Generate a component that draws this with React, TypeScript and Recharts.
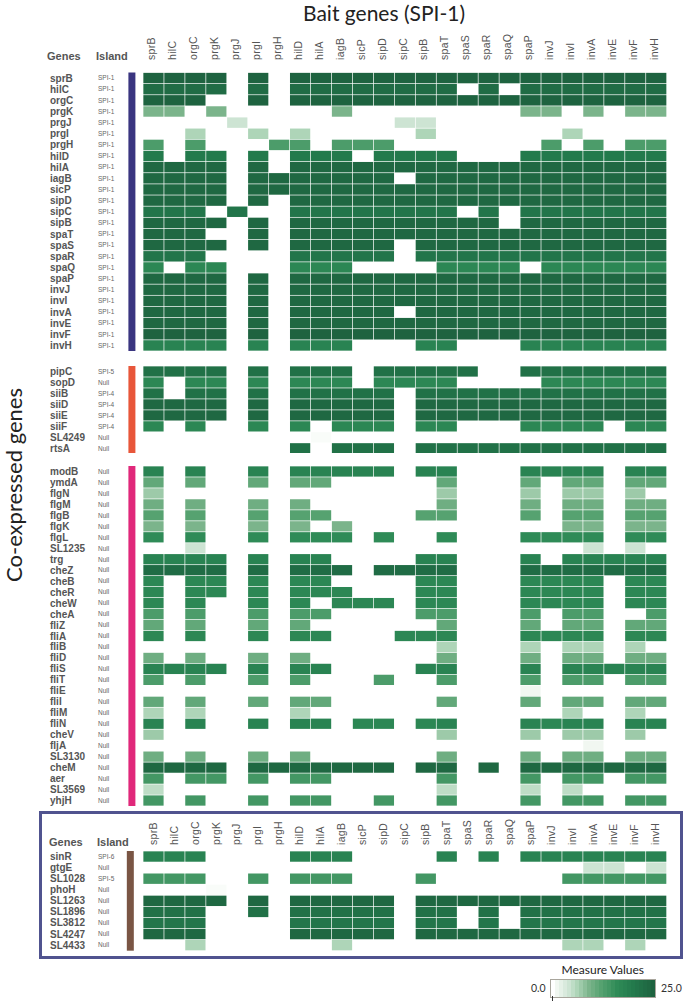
import { ScatterChart, Scatter, XAxis, YAxis, ReferenceArea } from 'recharts'

const baitGenes = ['sprB', 'hilC', 'orgC', 'prgK', 'prgJ', 'prgI', 'prgH', 'hilD', 'hilA', 'iagB', 'sicP', 'sipD', 'sipC', 'sipB', 'spaT', 'spaS', 'spaR', 'spaQ', 'spaP', 'invJ', 'invI', 'invA', 'invE', 'invF', 'invH']

const spi1Genes = ['sprB', 'hilC', 'orgC', 'prgK', 'prgJ', 'prgI', 'prgH', 'hilD', 'hilA', 'iagB', 'sicP', 'sipD', 'sipC', 'sipB', 'spaT', 'spaS', 'spaR', 'spaQ', 'spaP', 'invJ', 'invI', 'invA', 'invE', 'invF', 'invH']
const spi1Islands = spi1Genes.map(() => 'SPI-1')
const spi1Values = [
  [25, 25, 25, 25, 0, 25, 0, 25, 25, 25, 25, 25, 25, 25, 25, 25, 25, 25, 25, 25, 25, 25, 25, 25, 25],
  [23, 23, 23, 23, 0, 23, 0, 23, 23, 23, 23, 23, 23, 23, 23, 0, 23, 0, 23, 23, 23, 23, 23, 23, 23],
  [25, 25, 25, 0, 0, 25, 0, 25, 25, 25, 25, 25, 25, 25, 25, 25, 25, 25, 25, 25, 25, 25, 25, 25, 25],
  [9, 9, 0, 9, 0, 0, 0, 0, 0, 9, 0, 0, 0, 0, 0, 0, 0, 0, 9, 9, 0, 9, 0, 9, 9],
  [0, 0, 0, 0, 4, 0, 0, 0, 0, 0, 0, 0, 4, 4, 0, 0, 0, 0, 0, 0, 0, 0, 0, 0, 0],
  [0, 0, 6, 0, 0, 6, 0, 6, 0, 0, 0, 0, 0, 6, 0, 0, 0, 0, 0, 0, 6, 0, 0, 0, 0],
  [13, 0, 13, 0, 0, 0, 13, 13, 0, 13, 13, 13, 0, 0, 0, 0, 0, 0, 0, 13, 0, 13, 0, 13, 13],
  [20, 0, 20, 20, 0, 20, 0, 20, 20, 20, 0, 20, 20, 20, 20, 0, 0, 0, 20, 20, 20, 20, 20, 20, 20],
  [24, 24, 24, 24, 0, 24, 0, 24, 24, 24, 24, 24, 24, 24, 24, 24, 24, 24, 24, 24, 24, 24, 24, 24, 24],
  [24, 24, 24, 24, 0, 24, 24, 24, 24, 24, 24, 24, 0, 24, 24, 24, 24, 24, 24, 24, 24, 24, 24, 24, 24],
  [24, 24, 24, 24, 0, 24, 24, 24, 24, 24, 24, 24, 24, 24, 24, 24, 24, 24, 24, 24, 24, 24, 24, 24, 24],
  [24, 24, 24, 24, 0, 24, 0, 24, 24, 24, 24, 24, 24, 24, 24, 24, 24, 24, 24, 24, 24, 24, 24, 24, 24],
  [21, 21, 21, 0, 21, 0, 0, 21, 21, 21, 21, 21, 21, 21, 21, 0, 21, 0, 21, 21, 21, 21, 21, 21, 21],
  [24, 24, 24, 24, 0, 24, 0, 24, 24, 24, 24, 24, 24, 24, 24, 24, 24, 0, 24, 24, 24, 24, 24, 24, 24],
  [24, 24, 24, 0, 0, 24, 0, 24, 24, 24, 24, 24, 24, 24, 24, 24, 24, 24, 24, 24, 24, 24, 24, 24, 24],
  [24, 24, 24, 24, 0, 24, 0, 24, 24, 24, 24, 24, 0, 24, 24, 24, 24, 24, 24, 24, 24, 24, 24, 24, 24],
  [21, 21, 21, 0, 0, 0, 0, 21, 21, 21, 21, 21, 0, 21, 21, 21, 21, 21, 21, 21, 21, 21, 21, 21, 21],
  [17, 0, 17, 17, 0, 0, 0, 17, 17, 17, 0, 0, 0, 0, 17, 17, 17, 17, 0, 17, 17, 17, 17, 17, 17],
  [24, 24, 24, 24, 0, 24, 0, 24, 24, 24, 24, 24, 24, 24, 24, 24, 24, 24, 24, 24, 24, 24, 24, 24, 24],
  [24, 24, 24, 24, 0, 24, 0, 24, 24, 24, 24, 24, 24, 24, 24, 24, 24, 24, 24, 24, 24, 24, 24, 24, 24],
  [24, 24, 24, 24, 0, 24, 0, 24, 24, 24, 24, 24, 24, 24, 24, 24, 24, 24, 24, 24, 24, 24, 24, 24, 24],
  [24, 24, 24, 24, 0, 24, 0, 24, 24, 24, 24, 24, 0, 24, 24, 24, 24, 24, 24, 24, 24, 24, 24, 24, 24],
  [24, 24, 24, 24, 0, 24, 0, 24, 24, 24, 24, 24, 24, 24, 24, 24, 24, 24, 24, 24, 24, 24, 24, 24, 24],
  [25, 25, 25, 25, 0, 25, 0, 25, 25, 25, 25, 25, 25, 25, 25, 25, 25, 25, 25, 25, 25, 25, 25, 25, 25],
  [18, 18, 18, 18, 0, 18, 0, 18, 18, 18, 0, 0, 0, 18, 18, 0, 0, 0, 18, 18, 18, 18, 18, 18, 18],
]

const invasionGenes = ['pipC', 'sopD', 'siiB', 'siiD', 'siiE', 'siiF', 'SL4249', 'rtsA']
const invasionIslands = ['SPI-5', 'Null', 'SPI-4', 'SPI-4', 'SPI-4', 'SPI-4', 'Null', 'Null']
const invasionValues = [
  [22, 22, 22, 22, 0, 22, 0, 22, 22, 22, 0, 22, 22, 22, 22, 22, 0, 0, 22, 22, 22, 22, 22, 22, 22],
  [17, 0, 17, 17, 0, 17, 0, 17, 17, 17, 0, 17, 17, 17, 17, 0, 0, 0, 0, 17, 17, 17, 17, 17, 17],
  [22, 0, 22, 22, 0, 22, 0, 22, 22, 22, 22, 22, 0, 22, 22, 22, 22, 22, 22, 22, 22, 22, 22, 22, 22],
  [24, 24, 24, 24, 0, 24, 0, 24, 24, 24, 24, 24, 0, 24, 24, 24, 24, 24, 24, 24, 24, 24, 24, 24, 24],
  [24, 24, 24, 24, 0, 24, 0, 24, 24, 24, 24, 24, 0, 24, 24, 24, 24, 24, 24, 24, 24, 24, 24, 24, 24],
  [17, 0, 17, 0, 0, 17, 0, 17, 0, 17, 17, 17, 0, 17, 17, 0, 0, 0, 17, 17, 17, 17, 0, 17, 17],
  [0, 0, 0, 0, 0, 0, 0, 0, 0.4, 0, 0, 0, 0, 0, 0, 0, 0, 0, 0, 0, 0, 0, 0, 0, 0],
  [0, 0, 0, 0, 0, 0, 0, 22, 0, 22, 22, 22, 0, 22, 22, 22, 22, 22, 22, 22, 22, 22, 22, 22, 22],
]

const motilityGenes = ['modB', 'ymdA', 'flgN', 'flgM', 'flgB', 'flgK', 'flgL', 'SL1235', 'trg', 'cheZ', 'cheB', 'cheR', 'cheW', 'cheA', 'fliZ', 'fliA', 'fliB', 'fliD', 'fliS', 'fliT', 'fliE', 'fliI', 'fliM', 'fliN', 'cheV', 'fljA', 'SL3130', 'cheM', 'aer', 'SL3569', 'yhjH']
const motilityIslands = motilityGenes.map(() => 'Null')
const motilityValues = [
  [18, 0, 18, 0, 0, 18, 0, 18, 18, 18, 18, 18, 0, 18, 18, 0, 0, 0, 18, 18, 18, 18, 0, 18, 18],
  [11, 0, 11, 0, 0, 11, 0, 11, 11, 0, 0, 0, 0, 0, 11, 0, 0, 0, 11, 0, 11, 11, 0, 11, 11],
  [7, 0, 0, 0, 0, 0, 0, 0, 0, 0, 0, 0, 0, 0, 7, 0, 0, 0, 7, 0, 7, 7, 0, 7, 0],
  [10, 0, 10, 0, 0, 10, 0, 10, 0, 0, 0, 0, 0, 0, 10, 0, 0, 0, 10, 0, 10, 10, 0, 10, 10],
  [12, 0, 12, 0, 0, 12, 0, 12, 12, 0, 0, 0, 0, 12, 12, 0, 0, 0, 12, 0, 12, 12, 0, 12, 12],
  [9, 0, 9, 0, 0, 9, 0, 9, 0, 9, 0, 0, 0, 0, 0, 0, 0, 0, 0, 0, 9, 9, 0, 9, 9],
  [16, 0, 16, 0, 0, 16, 0, 16, 16, 16, 0, 16, 0, 0, 16, 0, 0, 0, 16, 16, 16, 16, 0, 16, 16],
  [0, 0, 4, 0, 0, 0, 0, 0, 0, 0, 0, 0, 0, 0, 0, 0, 0, 0, 0, 0, 0, 4, 0, 4, 0],
  [18, 18, 18, 18, 0, 18, 0, 18, 18, 0, 0, 0, 0, 18, 18, 0, 0, 0, 18, 0, 18, 18, 18, 18, 18],
  [23, 23, 23, 23, 0, 23, 0, 23, 23, 23, 0, 23, 23, 23, 23, 0, 0, 0, 23, 23, 23, 23, 23, 23, 23],
  [17, 0, 17, 17, 0, 17, 0, 17, 17, 0, 0, 0, 0, 17, 17, 0, 0, 0, 17, 17, 17, 17, 0, 17, 17],
  [17, 0, 17, 17, 0, 17, 0, 17, 17, 17, 0, 0, 0, 17, 17, 0, 0, 0, 17, 17, 17, 17, 0, 17, 17],
  [17, 0, 17, 0, 0, 17, 0, 17, 0, 17, 17, 17, 0, 17, 17, 0, 0, 0, 17, 17, 17, 17, 0, 17, 17],
  [13, 0, 13, 0, 0, 13, 0, 13, 13, 0, 0, 0, 0, 13, 13, 0, 0, 0, 13, 0, 13, 13, 0, 0, 13],
  [11, 0, 11, 0, 0, 11, 0, 11, 0, 0, 0, 0, 0, 0, 11, 0, 0, 0, 11, 0, 11, 11, 0, 11, 11],
  [17, 0, 17, 0, 0, 17, 0, 17, 17, 0, 0, 0, 17, 17, 17, 0, 0, 0, 17, 17, 17, 17, 0, 17, 17],
  [0, 0, 0, 0, 0, 0, 0, 0, 0, 0, 0, 0, 0, 0, 6, 0, 0, 0, 6, 0, 6, 6, 0, 6, 0],
  [10, 0, 10, 0, 0, 10, 0, 10, 0, 0, 0, 0, 0, 0, 10, 0, 0, 0, 10, 0, 10, 10, 0, 10, 10],
  [18, 18, 18, 18, 0, 18, 0, 18, 18, 0, 0, 0, 0, 18, 18, 0, 0, 0, 18, 0, 18, 18, 18, 18, 18],
  [13, 0, 13, 0, 0, 13, 0, 13, 0, 0, 0, 13, 0, 0, 13, 0, 0, 0, 13, 0, 13, 13, 0, 13, 13],
  [0, 0, 0, 0, 0, 0, 0, 0, 0, 0, 0, 0, 0, 0, 0, 0, 0, 0, 1, 0, 0, 0, 0, 0, 0],
  [11, 0, 11, 0, 0, 11, 0, 11, 11, 0, 0, 0, 0, 0, 11, 0, 0, 0, 11, 0, 11, 11, 0, 11, 11],
  [6, 0, 6, 0, 0, 0, 0, 6, 0, 0, 0, 0, 0, 0, 0, 0, 0, 0, 0, 0, 6, 0, 0, 6, 0],
  [18, 0, 18, 0, 0, 18, 0, 18, 18, 0, 17, 17, 0, 17, 18, 0, 0, 0, 18, 17, 18, 18, 0, 18, 18],
  [7, 0, 0, 0, 0, 0, 0, 0, 0, 0, 0, 0, 0, 0, 7, 0, 0, 0, 7, 0, 7, 7, 0, 7, 0],
  [0, 0, 0, 0, 0, 0, 0, 0, 0, 0, 0, 0, 0, 0, 0, 0, 0, 0, 0, 0, 0, 1, 0, 0, 0],
  [10, 0, 10, 0, 0, 10, 0, 10, 0, 0, 0, 0, 0, 0, 10, 0, 0, 0, 10, 0, 10, 10, 0, 10, 10],
  [24, 24, 24, 24, 0, 24, 24, 24, 24, 24, 24, 24, 0, 24, 24, 0, 24, 0, 24, 24, 24, 24, 24, 24, 24],
  [14, 0, 14, 14, 0, 14, 0, 14, 14, 0, 0, 0, 0, 0, 14, 0, 0, 0, 14, 0, 14, 14, 0, 14, 14],
  [5, 0, 0, 0, 0, 0, 0, 0, 0, 0, 0, 0, 0, 0, 5, 0, 0, 0, 5, 0, 5, 0, 0, 0, 0],
  [14, 0, 14, 0, 0, 14, 0, 14, 14, 0, 0, 14, 0, 0, 14, 0, 0, 0, 14, 0, 14, 14, 0, 14, 14],
]

const otherGenes = ['sinR', 'gtgE', 'SL1028', 'phoH', 'SL1263', 'SL1896', 'SL3812', 'SL4247', 'SL4433']
const otherIslands = ['SPI-6', 'Null', 'SPI-5', 'Null', 'Null', 'Null', 'Null', 'Null', 'Null']
const otherValues = [
  [18, 18, 18, 0, 0, 0, 0, 18, 18, 18, 0, 0, 0, 0, 18, 0, 18, 0, 18, 18, 18, 18, 18, 18, 18],
  [0, 0, 0, 0, 0, 0, 0, 0, 0, 0, 0, 0, 0, 0, 0, 0, 0, 0, 0, 0, 0, 4, 4, 0, 4],
  [14, 14, 14, 0, 0, 14, 0, 14, 14, 14, 0, 0, 0, 14, 0, 0, 0, 0, 0, 0, 14, 14, 14, 14, 14],
  [0, 0, 0, 0.4, 0, 0, 0, 0, 0, 0, 0, 0, 0, 0, 0, 0, 0, 0, 0, 0, 0, 0, 0, 0, 0],
  [24, 24, 24, 24, 0, 24, 0, 24, 24, 24, 24, 24, 0, 24, 24, 24, 24, 24, 24, 24, 24, 24, 24, 24, 24],
  [22, 22, 22, 0, 0, 22, 0, 22, 22, 22, 22, 22, 0, 22, 22, 0, 22, 0, 22, 22, 22, 22, 22, 22, 22],
  [21, 21, 21, 0, 0, 0, 0, 21, 21, 21, 21, 21, 0, 21, 21, 0, 21, 0, 21, 21, 21, 21, 21, 21, 21],
  [24, 24, 24, 0, 0, 0, 0, 24, 24, 24, 24, 24, 0, 24, 24, 24, 24, 24, 24, 24, 24, 24, 24, 24, 24],
  [0, 0, 6, 0, 0, 0, 0, 0, 0, 6, 0, 0, 0, 0, 0, 0, 0, 0, 0, 0, 6, 6, 0, 6, 0],
]

const colorStops: [number, string][] = [
  [0, '#ffffff'],
  [1, '#f1f7f1'],
  [4, '#cde4d3'],
  [6, '#aed5b8'],
  [9, '#7bb48b'],
  [12, '#56a270'],
  [16, '#2f8b57'],
  [20, '#237a4c'],
  [25, '#1e6340'],
]
const legendSteps = [0, 1, 2, 3, 4, 5, 6, 7, 8, 9, 10, 11, 12, 13, 14, 15, 16, 17, 18, 19, 20, 21, 22, 23, 24, 25]

const FONT = '"Liberation Sans", Arial, sans-serif'
const TITLE_FONT = 'Lato, sans-serif'
const CHART_W = 685
const PLOT_LEFT = 143
const PLOT_RIGHT = 666.7
const CELL_W = (PLOT_RIGHT - PLOT_LEFT) / baitGenes.length

function hex(c: string) {
  return [1, 3, 5].map(i => parseInt(c.slice(i, i + 2), 16))
}

function cellColor(v: number) {
  for (let i = 1; i < colorStops.length; i++) {
    const [v0, c0] = colorStops[i - 1]
    const [v1, c1] = colorStops[i]
    if (v <= v1) {
      const t = (v - v0) / (v1 - v0)
      const a = hex(c0)
      const b = hex(c1)
      return `rgb(${a.map((n, k) => Math.round(n + (b[k] - n) * t)).join(',')})`
    }
  }
  return colorStops[colorStops.length - 1][1]
}

function HeatPanel({ genes, islands, values, top, plotH, axisH, barColor, barLeft, labelGap, labelShift }: {
  genes: string[]
  islands: string[]
  values: number[][]
  top: number
  plotH: number
  axisH: number
  barColor: string
  barLeft: number
  labelGap: number
  labelShift: number
}) {
  const cells = values.flatMap((row, y) =>
    row.map((v, x) => ({ x, y, v })).filter(c => c.v > 0)
  )
  const cellH = plotH / genes.length
  const barX1 = -0.5 - (PLOT_LEFT - barLeft) / CELL_W
  const barX2 = barX1 + 7 / CELL_W

  return (
    <div style={{ position: 'absolute', left: 0, top }}>
      <ScatterChart width={CHART_W} height={axisH + plotH} margin={{ top: 0, right: CHART_W - PLOT_RIGHT, bottom: 0, left: 0 }}>
        <XAxis
          type="number"
          dataKey="x"
          orientation="top"
          domain={[-0.5, baitGenes.length - 0.5]}
          ticks={baitGenes.map((_, i) => i)}
          interval={0}
          height={axisH}
          hide={axisH === 0}
          axisLine={false}
          tickLine={false}
          tick={(p: any) => (
            <text
              transform={`translate(${p.x + labelShift},${axisH - labelGap}) rotate(-90)`}
              dy="0.35em"
              fontFamily={FONT}
              fontSize={10.5}
              letterSpacing={0.3}
              fill="#555"
            >
              {baitGenes[p.payload.value]}
            </text>
          )}
        />
        <YAxis
          type="number"
          dataKey="y"
          reversed
          domain={[-0.5, genes.length - 0.5]}
          ticks={genes.map((_, i) => i)}
          interval={0}
          width={PLOT_LEFT}
          axisLine={false}
          tickLine={false}
          tick={(p: any) => (
            <g>
              <text x={50} y={p.y} dy="0.35em" fontFamily={FONT} fontSize={10} fontWeight="bold" fill="#555">
                {genes[p.payload.value]}
              </text>
              <text x={98} y={p.y} dy="0.35em" fontFamily={FONT} fontSize={6.5} fill="#666">
                {islands[p.payload.value]}
              </text>
            </g>
          )}
        />
        <ReferenceArea
          x1={barX1}
          x2={barX2}
          y1={-0.5}
          y2={genes.length - 0.5}
          ifOverflow="visible"
          fill={barColor}
          fillOpacity={1}
          stroke="none"
        />
        <Scatter
          data={cells}
          isAnimationActive={false}
          shape={(p: any) => (
            <rect
              x={p.cx - CELL_W / 2 + 0.35}
              y={p.cy - cellH / 2 + 0.35}
              width={CELL_W - 0.7}
              height={cellH - 0.7}
              fill={cellColor(p.payload.v)}
            />
          )}
        />
      </ScatterChart>
    </div>
  )
}

function Head({ x, y, children }: { x: number; y: number; children: string }) {
  return (
    <div style={{ position: 'absolute', left: x, top: y, font: `bold 11px ${FONT}`, color: '#555', lineHeight: '12px' }}>
      {children}
    </div>
  )
}

export default function App() {
  return (
    <div style={{ position: 'absolute', left: 0, top: 0, width: 685, height: 1003, overflow: 'hidden', background: '#fff' }}>
      <div style={{ position: 'absolute', left: 303, top: 0, font: `21px/26px ${TITLE_FONT}`, color: '#222', whiteSpace: 'nowrap' }}>
        Bait genes (SPI-1)
      </div>
      <div
        style={{
          position: 'absolute',
          left: 14,
          top: 485,
          font: `22px/28px ${TITLE_FONT}`,
          color: '#222',
          whiteSpace: 'nowrap',
          transform: 'translate(-50%, -50%) rotate(-90deg)',
        }}
      >
        Co-expressed genes
      </div>

      <div style={{ position: 'absolute', left: 39, top: 811, width: 644, height: 148, boxSizing: 'border-box', border: '3px solid #50538f' }} />

      <Head x={47} y={50}>Genes</Head>
      <Head x={96} y={50}>Island</Head>
      <Head x={49} y={836}>Genes</Head>
      <Head x={97} y={836}>Island</Head>

      <HeatPanel genes={spi1Genes} islands={spi1Islands} values={spi1Values} top={0} plotH={278.5} axisH={72.5} barColor="#3a3580" barLeft={128.4} labelGap={12.5} labelShift={-2} />
      <HeatPanel genes={invasionGenes} islands={invasionIslands} values={invasionValues} top={365.7} plotH={87.8} axisH={0} barColor="#e8563a" barLeft={128.4} labelGap={0} labelShift={0} />
      <HeatPanel genes={motilityGenes} islands={motilityIslands} values={motilityValues} top={466} plotH={340} axisH={0} barColor="#e0287a" barLeft={128.4} labelGap={0} labelShift={0} />
      <HeatPanel genes={otherGenes} islands={otherIslands} values={otherValues} top={816} plotH={99.7} axisH={35} barColor="#7a5544" barLeft={126.8} labelGap={6} labelShift={-0.5} />

      <div style={{ position: 'absolute', left: 561.5, top: 963, font: `12px/14px ${TITLE_FONT}`, color: '#222', whiteSpace: 'nowrap' }}>
        Measure Values
      </div>
      <div style={{ position: 'absolute', left: 531, top: 982, font: `10.5px/13px ${TITLE_FONT}`, color: '#333' }}>0.0</div>
      <div style={{ position: 'absolute', left: 661, top: 982, font: `10.5px/13px ${TITLE_FONT}`, color: '#333' }}>25.0</div>
      <div style={{ position: 'absolute', left: 550, top: 979, width: 106, height: 19, boxSizing: 'border-box', border: '1px solid #a8a59c', display: 'flex' }}>
        {legendSteps.map(v => (
          <div key={v} style={{ flex: 1, background: cellColor(v) }} />
        ))}
      </div>
      <div style={{ position: 'absolute', left: 552, top: 996, width: 1, height: 5, background: '#333' }} />
    </div>
  )
}
